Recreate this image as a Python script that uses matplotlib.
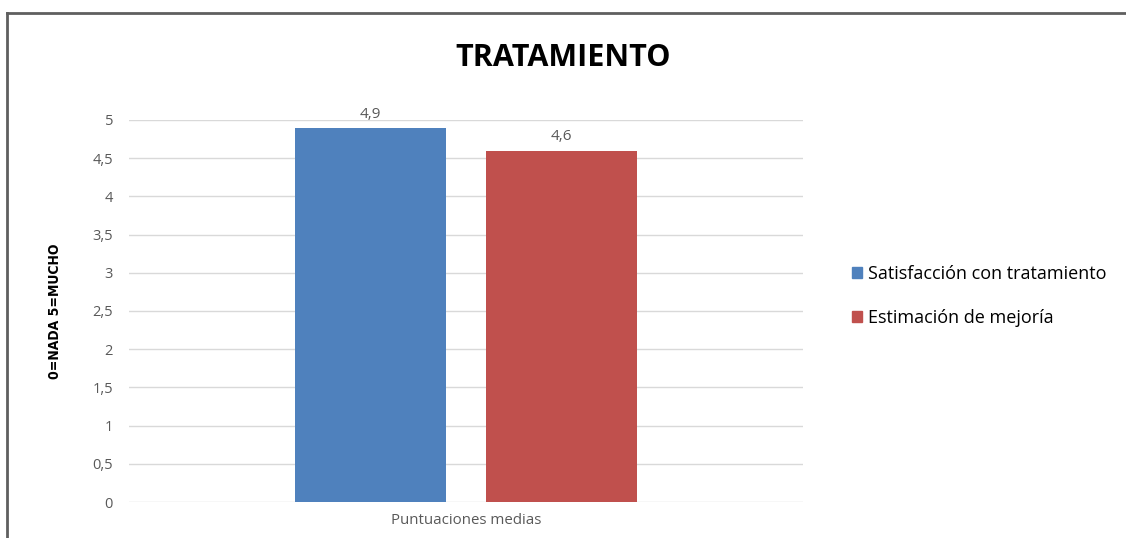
import numpy as np
import matplotlib.pyplot as plt
from matplotlib.lines import Line2D

# mean scores per series
series = ['Satisfacción con tratamiento', 'Estimación de mejoría']
values = [4.9, 4.6]
colors = ['#4F81BD', '#C0504D']
category = 'Puntuaciones medias'
yticks = [0, 0.5, 1, 1.5, 2, 2.5, 3, 3.5, 4, 4.5, 5]

plt.rcParams['font.family'] = ['Open Sans', 'DejaVu Sans']
grey = '#595959'

fig = plt.figure(figsize=(11.26, 5.38), dpi=100)
ax = fig.add_axes([0.1146, 0.0669, 0.5985, 0.7101])

width = 0.224
offsets = [-0.142, 0.142]
for name, val, col, off in zip(series, values, colors, offsets):
    ax.bar(off, val, width=width, color=col, label=name, zorder=3)
    ax.text(off, val + 0.08, ('%.1f' % val).replace('.', ','), ha='center', va='bottom',
            fontsize=11, color=grey)

ax.set_xlim(-0.5, 0.5)
ax.set_ylim(0, 5)
ax.set_yticks(yticks)
ax.set_yticklabels([('%g' % t).replace('.', ',') for t in yticks], fontsize=10.5, color=grey)
ax.set_xticks([0])
ax.set_xticklabels([category], fontsize=10.8, color=grey)
ax.tick_params(axis='both', length=0)
ax.tick_params(axis='y', pad=11.5)
ax.tick_params(axis='x', pad=8)
ax.grid(axis='y', color='#d9d9d9', linewidth=1, zorder=0)
for s in ax.spines.values():
    s.set_visible(False)

ax.set_ylabel('0=NADA 5=MUCHO', fontsize=10, fontweight='bold', fontstretch='condensed',
              family=['DejaVu Sans'], labelpad=22)

fig.text(0.5, 0.893, 'TRATAMIENTO', ha='center', va='center', fontsize=22,
         fontweight='bold', color='black')

handles = [plt.Rectangle((0, 0), 1, 1, color=c) for c in colors]
leg = fig.legend(handles, series, loc='center left', bbox_to_anchor=(0.742, 0.45),
                 frameon=False, fontsize=13, handlelength=0.55, handleheight=0.55,
                 handletextpad=0.35, labelspacing=1.4)
for t in leg.get_texts():
    t.set_color('black')

# outer frame (top and left edges)
fig.add_artist(Line2D([0.006, 1.0], [0.976, 0.976], color='#5f5f5f', linewidth=2,
                      transform=fig.transFigure))
fig.add_artist(Line2D([0.006, 0.006], [0.0, 0.976], color='#5f5f5f', linewidth=2,
                      transform=fig.transFigure))

fig.savefig('out.png', dpi=100)
